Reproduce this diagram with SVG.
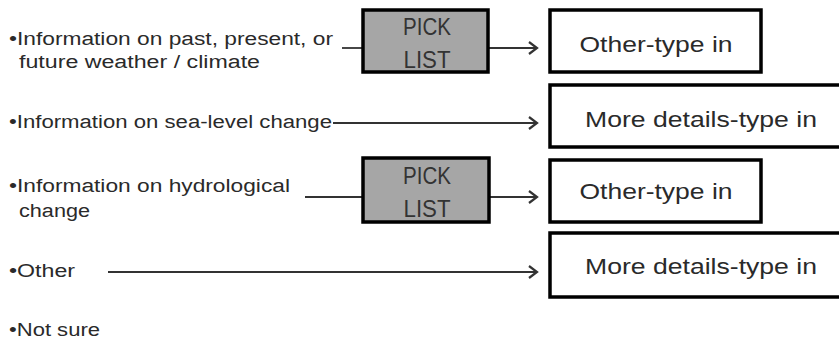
<svg xmlns="http://www.w3.org/2000/svg" width="839" height="341" viewBox="0 0 839 341">
<defs>
<style>
.lbl{font-family:"Liberation Sans",Arial,sans-serif;font-size:18px;fill:#2a2a2a}
.box{fill:#ffffff;stroke:#000;stroke-width:3.5}
.pick{fill:#a6a6a6;stroke:#000;stroke-width:3.5}
.bt{font-family:"Liberation Sans",Arial,sans-serif;font-size:22px;fill:#2a2a2a;text-anchor:middle}
.pt{font-family:"Liberation Sans",Arial,sans-serif;font-size:24px;fill:#333;text-anchor:middle}
.ln{stroke:#333;stroke-width:1.8;fill:none}
</style>
<marker id="ah" markerWidth="14" markerHeight="16" refX="11" refY="8" orient="auto" markerUnits="userSpaceOnUse">
<path d="M3,2 L11,8 L3,14" fill="none" stroke="#333" stroke-width="2.2"/>
</marker>
</defs>
<rect width="839" height="341" fill="#fff"/>
<g id="labels">
<text class="lbl" x="9" y="45" textLength="324" lengthAdjust="spacingAndGlyphs">•Information on past, present, or</text>
<text class="lbl" x="19" y="68" textLength="241" lengthAdjust="spacingAndGlyphs">future weather / climate</text>
<text class="lbl" x="9" y="128" textLength="323" lengthAdjust="spacingAndGlyphs">•Information on sea-level change</text>
<text class="lbl" x="9" y="192" textLength="281" lengthAdjust="spacingAndGlyphs">•Information on hydrological</text>
<text class="lbl" x="19" y="217" textLength="71" lengthAdjust="spacingAndGlyphs">change</text>
<text class="lbl" x="9" y="277" textLength="66" lengthAdjust="spacingAndGlyphs">•Other</text>
<text class="lbl" x="9" y="336" textLength="91" lengthAdjust="spacingAndGlyphs">•Not sure</text>
</g>
<g id="connectors">
<line class="ln" x1="342" y1="48" x2="363" y2="48"/>
<line class="ln" x1="488" y1="48" x2="537" y2="48" marker-end="url(#ah)"/>
<line class="ln" x1="333" y1="123" x2="537" y2="123" marker-end="url(#ah)"/>
<line class="ln" x1="305" y1="197" x2="363" y2="197"/>
<line class="ln" x1="489" y1="197" x2="537" y2="197" marker-end="url(#ah)"/>
<line class="ln" x1="108" y1="272" x2="537" y2="272" marker-end="url(#ah)"/>
</g>
<g id="pick1">
<rect class="pick" x="363" y="10" width="125" height="62"/>
<text class="pt" x="427" y="35" textLength="48" lengthAdjust="spacingAndGlyphs">PICK</text>
<text class="pt" x="427" y="68" textLength="47" lengthAdjust="spacingAndGlyphs">LIST</text>
</g>
<g id="other1">
<rect class="box" x="550" y="10" width="211" height="62"/>
<text class="bt" x="656" y="52" textLength="153" lengthAdjust="spacingAndGlyphs">Other-type in</text>
</g>
<g id="more2">
<rect class="box" x="550" y="85" width="300" height="62"/>
<text class="bt" x="701" y="127" textLength="232" lengthAdjust="spacingAndGlyphs">More details-type in</text>
</g>
<g id="pick3">
<rect class="pick" x="363" y="158" width="126" height="64"/>
<text class="pt" x="427" y="184" textLength="48" lengthAdjust="spacingAndGlyphs">PICK</text>
<text class="pt" x="427" y="217" textLength="47" lengthAdjust="spacingAndGlyphs">LIST</text>
</g>
<g id="other3">
<rect class="box" x="550" y="160" width="211" height="62"/>
<text class="bt" x="656" y="199" textLength="153" lengthAdjust="spacingAndGlyphs">Other-type in</text>
</g>
<g id="more4">
<rect class="box" x="550" y="233" width="300" height="64"/>
<text class="bt" x="701" y="274" textLength="232" lengthAdjust="spacingAndGlyphs">More details-type in</text>
</g>
</svg>
